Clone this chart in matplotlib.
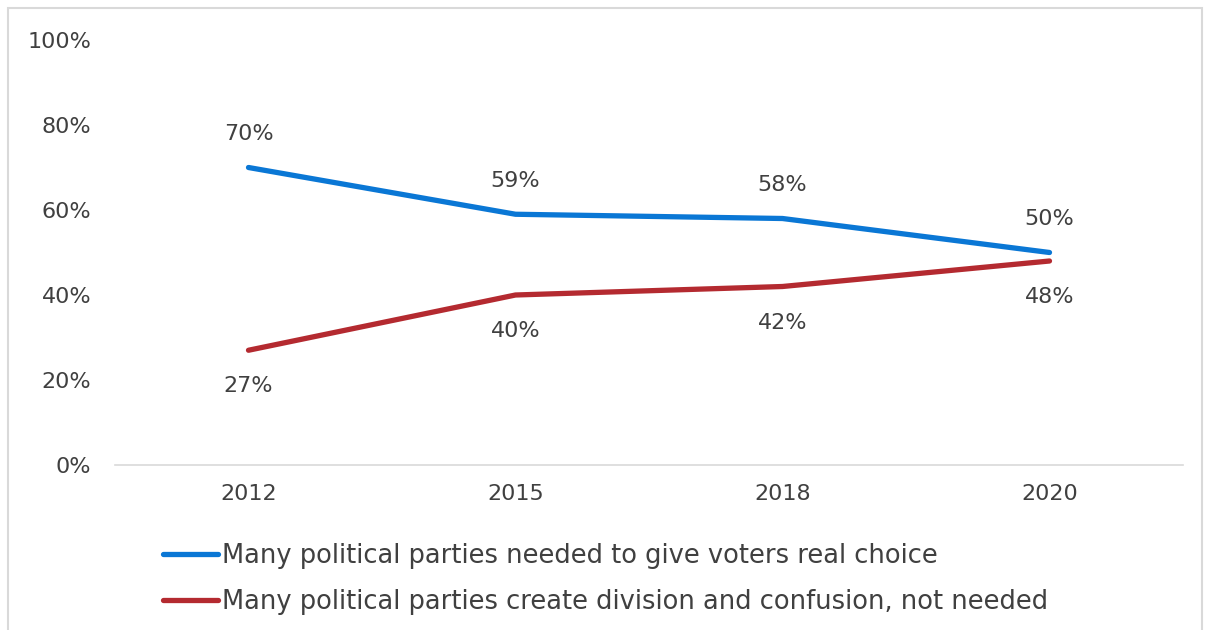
import matplotlib.pyplot as plt
from matplotlib.patches import Rectangle

years = ['2012', '2015', '2018', '2020']
needed = [70, 59, 58, 50]
not_needed = [27, 40, 42, 48]
labels = ['Many political parties needed to give voters real choice',
          'Many political parties create division and confusion, not needed']

blue = '#0A77D5'
red = '#B42A30'
text_col = '#404040'

plt.rcParams['font.family'] = ['DejaVu Sans']
fs = 16

fig = plt.figure(figsize=(12.06, 6.3), dpi=100)
ax = fig.add_axes([115 / 1206, 1 - 465 / 630, 1068 / 1206, 425 / 630])

x = range(len(years))
ax.plot(x, needed, color=blue, lw=3.8, solid_capstyle='round', label=labels[0])
ax.plot(x, not_needed, color=red, lw=3.8, solid_capstyle='round', label=labels[1])

for i in x:
    ax.annotate(f'{needed[i]}%', (i, needed[i]), xytext=(0, 24), textcoords='offset points',
                ha='center', va='center', fontsize=fs, color=text_col)
    ax.annotate(f'{not_needed[i]}%', (i, not_needed[i]), xytext=(0, -26), textcoords='offset points',
                ha='center', va='center', fontsize=fs, color=text_col)

ax.set_xlim(-0.5, 3.5)
ax.set_ylim(0, 100)
ax.set_xticks(list(x))
ax.set_xticklabels(years)
ax.set_yticks(range(0, 101, 20))
ax.set_yticklabels([f'{v}%' for v in range(0, 101, 20)])
ax.tick_params(length=0, labelsize=fs, colors=text_col)
ax.tick_params(axis='y', pad=17)
ax.tick_params(axis='x', pad=14)
for s in ['top', 'right', 'left']:
    ax.spines[s].set_visible(False)
ax.spines['bottom'].set_color('#D9D9D9')
ax.spines['bottom'].set_linewidth(1.2)

leg_fs = 18.5
leg = fig.legend(loc='upper left', bbox_to_anchor=(163 / 1206, 1 - 543 / 630), frameon=False,
                 fontsize=leg_fs, handlelength=2.14, handletextpad=0.15, labelspacing=0.78,
                 borderpad=0, borderaxespad=0, labelcolor=text_col)

fig.patches.append(Rectangle((8 / 1206, -0.01), 1194 / 1206, 1 - 8 / 630 + 0.01,
                             transform=fig.transFigure, fill=False, edgecolor='#D9D9D9', lw=1.5))

fig.savefig('out.png', dpi=100)
